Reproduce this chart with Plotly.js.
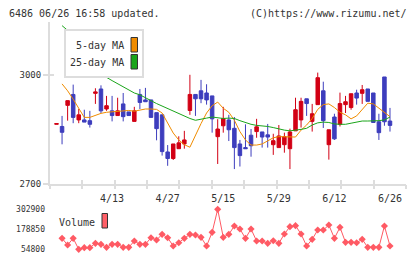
<!DOCTYPE html>
<html><head><meta charset="utf-8">
<script src="https://cdn.plot.ly/plotly-3.0.1.min.js"></script>
<style>html,body{margin:0;padding:0;background:#fff}#c{width:420px;height:259px}</style>
</head><body><div id="c"></div>
<script>
// trading days (2020)
const dates = ["3/30","3/31","4/1","4/2","4/3","4/6","4/7","4/8","4/9","4/10",
"4/13","4/14","4/15","4/16","4/17","4/20","4/21","4/22","4/23","4/24",
"4/27","4/28","4/30","5/1","5/7","5/8","5/11","5/12","5/13","5/14",
"5/15","5/18","5/19","5/20","5/21","5/22","5/25","5/26","5/27","5/28",
"5/29","6/1","6/2","6/3","6/4","6/5","6/8","6/9","6/10","6/11",
"6/12","6/15","6/16","6/17","6/18","6/19","6/22","6/23","6/24","6/25","6/26"];
const openP  = [2864,2858,2916,2946,2876,2876,2874,2949,2961,2906,
2901,2888,2920,2898,2872,2946,2931,2931,2896,2890,
2788,2770,2797,2810,2902,2946,2956,2950,2942,2830,
2860,2876,2853,2810,2800,2834,2844,2843,2835,2808,
2800,2808,2797,2846,2876,2934,2872,2918,2956,2808,
2884,2864,2918,2910,2950,2949,2961,2950,2871,2994,2873];
const highP  = [2866,2887,2929,2973,2906,2904,2901,2963,2971,2942,
2942,2937,2950,2898,2912,2961,2964,2931,2896,2890,
2807,2810,2831,2846,3000,2946,2986,2974,2942,2878,
2912,2890,2884,2821,2864,2851,2879,2843,2865,2838,
2862,2841,2852,2937,2937,2934,2920,3006,2981,2849,
2893,2951,2942,2948,2959,2972,2961,2950,2893,2994,2909];
const lowP   = [2864,2809,2874,2867,2867,2870,2855,2920,2895,2901,
2872,2888,2872,2888,2872,2906,2926,2883,2820,2778,
2750,2766,2797,2797,2890,2887,2922,2918,2841,2755,
2841,2818,2741,2748,2797,2775,2827,2800,2800,2780,
2800,2786,2741,2846,2855,2887,2844,2918,2854,2767,
2821,2858,2895,2904,2918,2920,2927,2869,2821,2860,2844];
const closeP = [2866,2842,2929,2883,2890,2870,2864,2953,2901,2915,
2888,2901,2885,2888,2901,2924,2926,2883,2852,2789,
2770,2810,2813,2821,2946,2934,2934,2931,2879,2851,
2880,2849,2800,2778,2797,2805,2857,2829,2829,2819,
2832,2830,2843,2904,2927,2921,2893,2992,2874,2849,
2824,2921,2926,2948,2936,2959,2927,2869,2841,2871,2861];
const ma5 = [null,2975,2956,2933,2907,2883,2883,2889,2894,2897,
2898,2900,2901,2902,2900,2904,2906,2906,2905,2895,
2866,2840,2821,2808,2801,2835,2866,2895,2915,2925,
2908,2897,2875,2844,2821,2807,2807,2810,2818,2827,
2830,2830,2829,2829,2848,2862,2880,2905,2918,2920,
2910,2897,2890,2879,2887,2906,2922,2920,2908,2896,2885];
const ma25 = [null,3135,3122,3100,3080,3060,3040,3022,3005,2993,
2984,2976,2968,2960,2950,2945,2936,2929,2921,2914,
2907,2901,2895,2888,2880,2875,2877,2881,2884,2882,
2880,2881,2880,2874,2868,2864,2861,2860,2858,2855,
2851,2848,2846,2847,2850,2853,2862,2868,2870,2869,
2865,2864,2864,2867,2870,2873,2873,2873,2874,2876,2884];
const volume = [null,123000,81500,123000,54800,64700,64700,92000,85800,67200,
85800,85800,67200,67200,106300,85800,85800,126700,112500,147800,
126700,75300,95700,123000,147800,143500,129200,75300,160200,302900,
129200,147800,199300,180700,123000,180700,106300,106300,92000,108100,
92000,149700,195000,201200,149700,75300,116800,174500,174500,205500,
123000,191200,98200,98200,95700,116800,67200,67200,67200,199300,75300];
const xTickLabels = ["4/13","4/27","5/15","5/29","6/12","6/26"];
const priceTicks = [2700,3000];
const volTicks = [54800,178850,302900];

const W=420,H=259;
const px=x=>x/W, py=y=>1-y/H;
const FONT='DejaVu Sans Mono';
const TXT='#333';
const AX='#dddddd';

const traces = [
  {type:'scatter',mode:'lines',x:dates,y:ma5,line:{color:'#f08c00',width:1},xaxis:'x',yaxis:'y'},
  {type:'scatter',mode:'lines',x:dates,y:ma25,line:{color:'#1aa51a',width:1},xaxis:'x',yaxis:'y'},
  {type:'candlestick',x:dates,open:openP,high:highP,low:lowP,close:closeP,xaxis:'x',yaxis:'y',
   whiskerwidth:0,
   increasing:{line:{color:'#d20014',width:1},fillcolor:'#d20014'},
   decreasing:{line:{color:'#3d3dbd',width:1},fillcolor:'#3d3dbd'}},
  {type:'scatter',mode:'lines+markers',x:dates,y:volume,xaxis:'x2',yaxis:'y2',
   line:{color:'#ff5a64',width:1},marker:{symbol:'diamond',size:5.5,color:'#ff5a64'}},
  {type:'scatter',x:[],y:[],xaxis:'x3',yaxis:'y'},
  {type:'scatter',x:[],y:[],xaxis:'x4',yaxis:'y'},
  {type:'scatter',x:[],y:[],xaxis:'x',yaxis:'y3'}
];

const xdom=[px(50),px(406)];
const xr=[-1.17,62.88];
const layout = {
  width:W,height:H,margin:{l:0,r:0,t:0,b:0},
  paper_bgcolor:'#fff',plot_bgcolor:'#fff',
  showlegend:false,hovermode:false,boxgap:0.1,
  font:{family:FONT,size:10,color:TXT},
  xaxis:{type:'category',domain:xdom,range:xr,anchor:'y',
    tickvals:xTickLabels,ticktext:xTickLabels,ticks:'',ticklabelstandoff:4,
    showline:true,linecolor:AX,linewidth:2,showgrid:false,zeroline:false,
    rangeslider:{visible:false},tickfont:{family:FONT,size:10,color:TXT}},
  xaxis2:{type:'category',domain:xdom,range:xr,anchor:'y2',matches:'x',visible:false,rangeslider:{visible:false}},
  xaxis3:{domain:xdom,range:[0,11],anchor:'y',overlaying:'x',tickvals:[0,1,2,3,4,5,6,7,8,9,10,11],
    ticks:'outside',ticklen:4,tickwidth:2,tickcolor:AX,showticklabels:false,showline:false,showgrid:false,zeroline:false},
  xaxis4:{domain:xdom,range:[0,11],anchor:'y',overlaying:'x',tickvals:[1,2,3,4,5,6,7,8,9,10],
    ticks:'inside',ticklen:4,tickwidth:2,tickcolor:AX,showticklabels:false,showline:false,showgrid:false,zeroline:false},
  yaxis:{domain:[py(184),py(22)],range:[2700,3145],anchor:'x',
    tickvals:priceTicks,ticktext:priceTicks.map(String),ticks:'outside',ticklen:5,tickwidth:2,tickcolor:AX,
    showline:true,linecolor:AX,linewidth:2,showgrid:false,zeroline:false,
    tickfont:{family:FONT,size:9,color:TXT}},
  yaxis3:{domain:[py(184),py(22)],range:[2700,3145],anchor:'x',overlaying:'y',
    tickvals:[3000],ticks:'inside',ticklen:4,tickwidth:2,tickcolor:AX,showticklabels:false,
    showline:false,showgrid:false,zeroline:false},
  yaxis2:{domain:[py(255),py(200)],range:[19450,360580],anchor:'x2',
    tickvals:volTicks,ticktext:volTicks.map(String),ticks:'',showline:false,showgrid:false,zeroline:false,
    tickfont:{family:FONT,size:8,color:TXT},ticklabelstandoff:4},
  annotations:[
    {xref:'paper',yref:'paper',x:px(7),y:py(13),xanchor:'left',yanchor:'middle',showarrow:false,
     text:'6486 06/26 16:58 updated.',font:{family:FONT,size:10,color:TXT}},
    {xref:'paper',yref:'paper',x:px(409),y:py(13),xanchor:'right',yanchor:'middle',showarrow:false,
     text:'(C)https://www.rizumu.net/',font:{family:FONT,size:10,color:TXT}},
    {xref:'paper',yref:'paper',x:px(126),y:py(46),xanchor:'right',yanchor:'middle',showarrow:false,
     text:'5-day MA',font:{family:FONT,size:10,color:TXT}},
    {xref:'paper',yref:'paper',x:px(126),y:py(62.5),xanchor:'right',yanchor:'middle',showarrow:false,
     text:'25-day MA',font:{family:FONT,size:10,color:TXT}},
    {xref:'paper',yref:'paper',x:px(57),y:py(222.5),xanchor:'left',yanchor:'middle',showarrow:false,
     text:'Volume',font:{family:FONT,size:10,color:TXT}}
  ],
  shapes:[
    {type:'rect',xref:'paper',yref:'paper',x0:px(65),x1:px(143),y0:py(30),y1:py(77),
     fillcolor:'#fff',line:{color:AX,width:2}},
    {type:'rect',xref:'paper',yref:'paper',x0:px(131),x1:px(137.5),y0:py(37.5),y1:py(52),
     fillcolor:'#f08c00',line:{color:'#333',width:1}},
    {type:'rect',xref:'paper',yref:'paper',x0:px(131),x1:px(137.5),y0:py(54.5),y1:py(69),
     fillcolor:'#1aa51a',line:{color:'#333',width:1}},
    {type:'rect',xref:'paper',yref:'paper',x0:px(102),x1:px(107.5),y0:py(213.5),y1:py(228),
     fillcolor:'#ff6068',line:{color:'#333',width:1}}
  ]
};
Plotly.newPlot('c',traces,layout,{staticPlot:true,displayModeBar:false});
</script></body></html>
